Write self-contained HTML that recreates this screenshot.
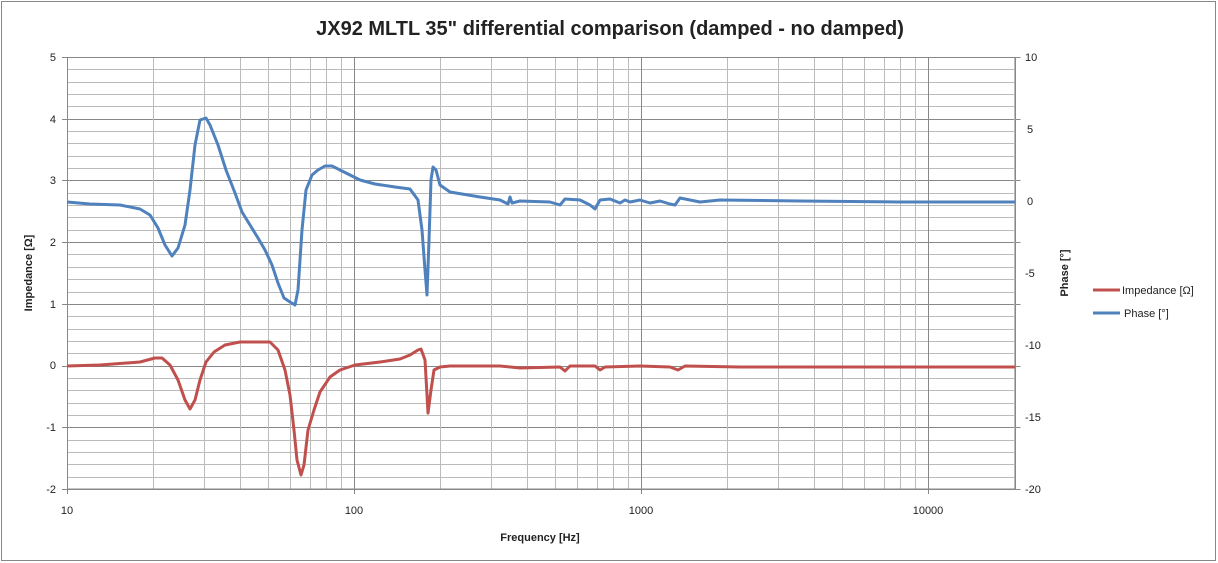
<!DOCTYPE html>
<html><head><meta charset="utf-8"><style>
body{margin:0;background:#fff;}
svg{display:block;font-family:"Liberation Sans",Calibri,sans-serif;}
</style></head><body>
<svg id="s" width="1218" height="563" xmlns="http://www.w3.org/2000/svg">
<rect x="1.5" y="1.5" width="1214" height="559" fill="#fff" stroke="#888" stroke-width="1"/>
<g id="grid"></g>
<rect x="67.5" y="57.5" width="948" height="431.5" fill="none" stroke="#888"/>
<text x="610" y="35" text-anchor="middle" font-size="20" font-weight="bold" fill="#222">JX92 MLTL 35" differential comparison (damped - no damped)</text>
<g font-size="11" fill="#222" text-anchor="end">
<text x="56" y="61">5</text><text x="56" y="123">4</text><text x="56" y="184">3</text><text x="56" y="246">2</text><text x="56" y="308">1</text><text x="56" y="369">0</text><text x="56" y="431">-1</text><text x="56" y="493">-2</text>
</g>
<g font-size="11" fill="#222" text-anchor="start">
<text x="1025" y="61">10</text><text x="1027" y="133">5</text><text x="1027" y="205">0</text><text x="1025" y="277">-5</text><text x="1025" y="349">-10</text><text x="1025" y="421">-15</text><text x="1025" y="493">-20</text>
</g>
<g font-size="11" fill="#222" text-anchor="middle">
<text x="67" y="514">10</text><text x="354" y="514">100</text><text x="641" y="514">1000</text><text x="928" y="514">10000</text>
</g>
<text x="540" y="541" text-anchor="middle" font-size="11" font-weight="bold" fill="#222">Frequency [Hz]</text>
<text transform="translate(32,273) rotate(-90)" text-anchor="middle" font-size="11" font-weight="bold" fill="#222">Impedance [Ω]</text>
<text transform="translate(1068,273) rotate(-90)" text-anchor="middle" font-size="11" font-weight="bold" fill="#222">Phase [°]</text>
<polyline fill="none" stroke="#4F81BD" stroke-width="3" stroke-linejoin="round" points="67,202 90,204 120,205 140,209 150,215 158,228 165,245 172,256 178,248 185,225 190,190 195,145 200,120 206,118 210,125 218,145 226,170 235,193 242,212 250,225 258,238 265,250 272,265 278,283 284,298 290,302 295,305 298,290 302,230 306,190 312,175 318,170 325,166 332,166 340,170 350,175 360,180 375,184 395,187 410,189 418,200 422,230 425,270 427,295 429,240 431,180 433,167 436,170 440,185 450,192 480,197 500,200 508,204 510,197 512,203 520,201 550,202 560,205 565,199 580,200 590,205 595,209 600,200 610,199 620,203 625,200 630,202 640,200 650,203 660,201 670,204 675,205 680,198 690,200 700,202 720,200 800,201 900,202 1015,202"/>
<polyline fill="none" stroke="#C0504D" stroke-width="3" stroke-linejoin="round" points="67,366 100,365 140,362 155,358 162,358 170,365 178,380 185,400 190,409 195,400 200,380 206,362 214,352 225,345 240,342 270,342 278,350 285,370 290,395 294,430 297,460 301,475 304,465 308,430 314,410 320,392 330,377 340,370 355,365 380,362 400,359 410,355 418,350 421,349 425,360 427,395 428,413 431,390 434,370 440,367 450,366 500,366 520,368 560,367 565,371 570,366 595,366 600,370 605,367 640,366 670,367 678,370 685,366 740,367 1015,367"/>
<line x1="1093" y1="290" x2="1120" y2="290" stroke="#C0504D" stroke-width="3"/>
<line x1="1093" y1="313" x2="1120" y2="313" stroke="#4F81BD" stroke-width="3"/>
<text x="1122" y="294" font-size="11" fill="#222">Impedance [Ω]</text>
<text x="1124" y="317" font-size="11" fill="#222">Phase [°]</text>
</svg>
<script>
var g=document.getElementById('grid'),h='';
var L=67,R=1015.5,T=57,B=489,D=287;
for(var i=0;i<=35;i++){var y=T+i*(B-T)/35;var maj=i%5==0;
h+='<line x1="'+L+'" x2="'+R+'" y1="'+(Math.round(y)+.5)+'" y2="'+(Math.round(y)+.5)+'" stroke="'+(maj?'#888':'#bbb')+'"/>';
if(maj)h+='<line x1="'+(L-5)+'" x2="'+L+'" y1="'+(Math.round(y)+.5)+'" y2="'+(Math.round(y)+.5)+'" stroke="#888"/><line x1="'+R+'" x2="'+(R+5)+'" y1="'+(Math.round(y)+.5)+'" y2="'+(Math.round(y)+.5)+'" stroke="#888"/>';}
for(var d=0;d<4;d++)for(var k=1;k<10;k++){var x=L+D*(d+Math.log10(k));if(x>R)continue;x=Math.round(x)+.5;
h+='<line x1="'+x+'" x2="'+x+'" y1="'+T+'" y2="'+(k==1?B+5:B)+'" stroke="'+(k==1?'#888':'#bbb')+'"/>';}
g.innerHTML=h;
</script>
</body></html>
